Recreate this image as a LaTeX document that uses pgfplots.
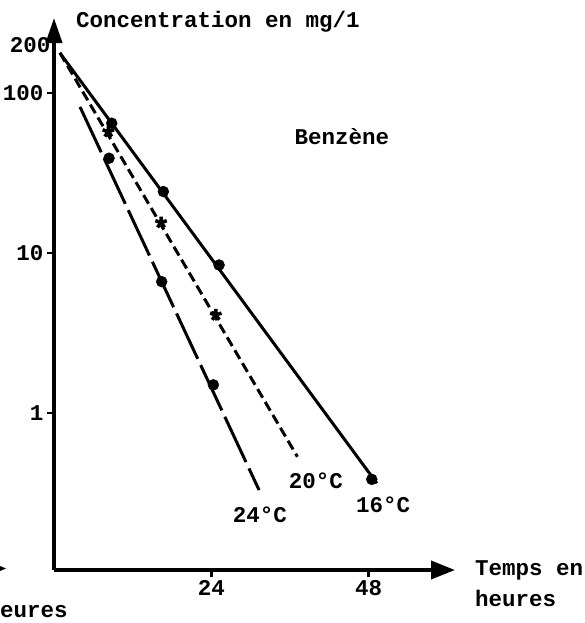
\documentclass[border=0pt]{standalone}
\usepackage{pgfplots}
\pgfplotsset{compat=1.18}
\usepackage{fontspec}
\setmainfont{Liberation Mono}
\usetikzlibrary{arrows.meta}
\begin{document}
\begin{tikzpicture}[font=\fontsize{22.5bp}{26bp}\selectfont\bfseries]
\useasboundingbox (-54bp,-53bp) rectangle (531bp,570bp);
\begin{axis}[
 at={(0,0)}, anchor=south west, scale only axis,
 width=401bp, height=552bp,
 xmin=0, xmax=61.2, ymode=log, ymin=0.1045, ymax=294,
 axis lines=left,
 x axis line style={line width=3.8bp, -{Triangle[length=24bp,width=18bp]}},
 y axis line style={line width=3.8bp, -{Triangle[length=25bp,width=16bp]}},
 xtick={24,48}, xticklabels={24,48},
 ytick={1,10,100}, yticklabels={1,10,100},
 extra y ticks={200}, extra y tick labels={200},
 extra y tick style={major tick length=0pt},
 yminorticks=false, xminorticks=false,
 tick align=outside, major tick length=7bp,
 tick style={line width=2.5bp, black},
 /pgf/number format/assume math mode=true,
 tick label style={font=\fontsize{22.5bp}{26bp}\selectfont\bfseries},
 clip=false,
]
% 16 C
\addplot[line width=3bp, no markers] coordinates {(0.9,178) (49.27,0.364)};
\addplot[only marks, mark=*, mark size=5.5bp] coordinates {(8.81,64.7) (16.69,24.2) (25.19,8.41) (48.5,0.385)};
% 20 C
\addplot[line width=3bp, no markers, dash pattern=on 10bp off 5bp] coordinates {(0.9,178) (37.15,0.533)};
\addplot[only marks, mark=star, mark size=6bp, line width=3.5bp] coordinates {(8.29,57.3) (16.34,15.5) (24.69,4.10)};
% 24 C
\addplot[line width=3bp, no markers, dash pattern=on 50bp off 7bp] coordinates {(3.97,81.8) (31.3,0.33)};
\addplot[only marks, mark=*, mark size=5.5bp] coordinates {(8.40,39.1) (16.44,6.62) (24.32,1.50)};
\end{axis}
\node at (164bp,548bp) {Concentration en mg/1};
\node at (288bp,433bp) {Benzène};
\node at (262bp,89bp) {20°C};
\node at (329bp,65bp) {16°C};
\node at (206bp,55bp) {24°C};
\node[anchor=base west, inner sep=0pt] at (421bp,-5bp) {Temps en};
\node[anchor=base west, inner sep=0pt] at (421bp,-36bp) {heures};
\node[anchor=base west, inner sep=0pt] at (-54bp,-47bp) {eures};
\fill (-54bp,4bp) -- (-48bp,1.5bp) -- (-54bp,-1bp) -- cycle;
\end{tikzpicture}
\end{document}
